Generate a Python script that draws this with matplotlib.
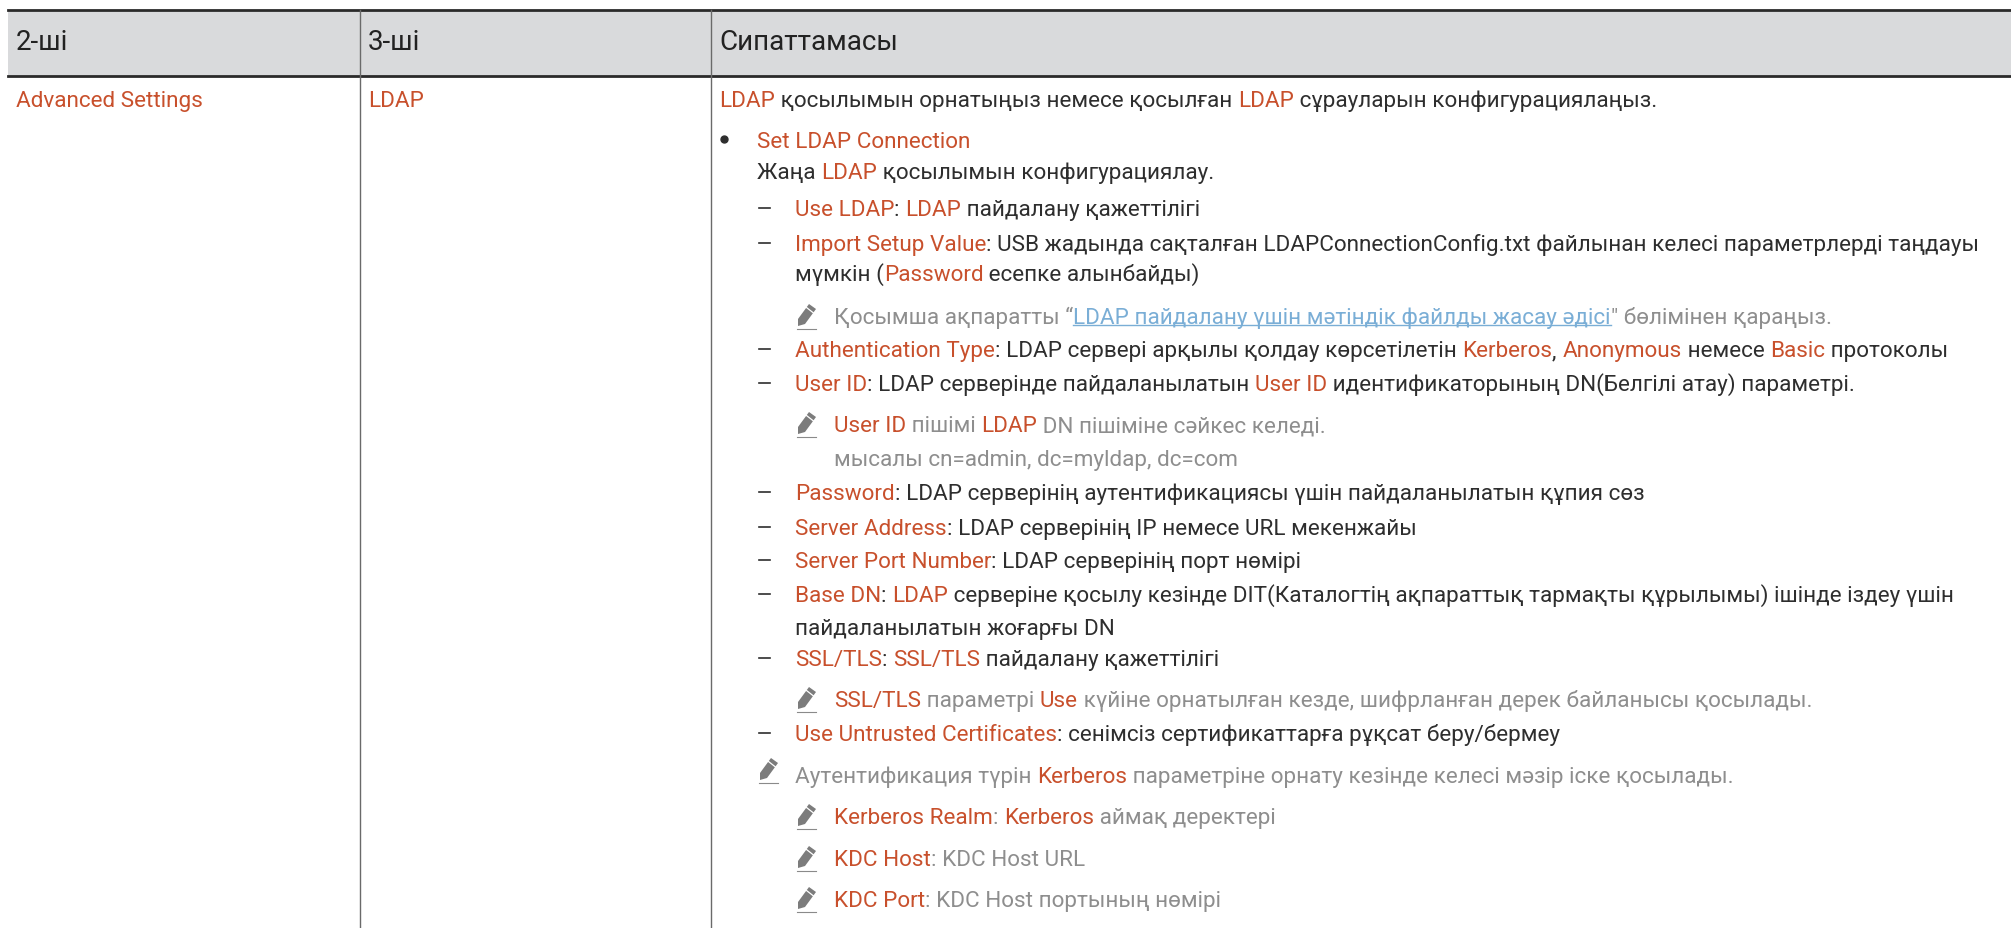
import matplotlib
matplotlib.use('Agg')
import matplotlib.pyplot as plt
from matplotlib.patches import Polygon, Rectangle

# Кесте мәтіні
bagan_atau = ["2-ші", "3-ші", "Сипаттамасы"]
bagan_2 = "[Advanced Settings]"
bagan_3 = "[LDAP]"

# [..] = қызғылт сары, {..} = сілтеме
joldar = [
    "[LDAP] қосылымын орнатыңыз немесе қосылған [LDAP] сұрауларын конфигурациялаңыз.",
    "[Set LDAP Connection]",
    "Жаңа [LDAP] қосылымын конфигурациялау.",
    "[Use LDAP]: [LDAP] пайдалану қажеттілігі",
    "[Import Setup Value]: USB жадында сақталған LDAPConnectionConfig.txt файлынан келесі параметрлерді таңдауы",
    "мүмкін ([Password] есепке алынбайды)",
    "Қосымша ақпаратты “{LDAP пайдалану үшін мәтіндік файлды жасау әдісі}\" бөлімінен қараңыз.",
    "[Authentication Type]: LDAP сервері арқылы қолдау көрсетілетін [Kerberos], [Anonymous] немесе [Basic] протоколы",
    "[User ID]: LDAP серверінде пайдаланылатын [User ID] идентификаторының DN(Белгілі атау) параметрі.",
    "[User ID] пішімі [LDAP] DN пішіміне сәйкес келеді.",
    "мысалы cn=admin, dc=myldap, dc=com",
    "[Password]: LDAP серверінің аутентификациясы үшін пайдаланылатын құпия сөз",
    "[Server Address]: LDAP серверінің IP немесе URL мекенжайы",
    "[Server Port Number]: LDAP серверінің порт нөмірі",
    "[Base DN]: [LDAP] серверіне қосылу кезінде DIT(Каталогтің ақпараттық тармақты құрылымы) ішінде іздеу үшін",
    "пайдаланылатын жоғарғы DN",
    "[SSL/TLS]: [SSL/TLS] пайдалану қажеттілігі",
    "[SSL/TLS] параметрі [Use] күйіне орнатылған кезде, шифрланған дерек байланысы қосылады.",
    "[Use Untrusted Certificates]: сенімсіз сертификаттарға рұқсат беру/бермеу",
    "Аутентификация түрін [Kerberos] параметріне орнату кезінде келесі мәзір іске қосылады.",
    "[Kerberos Realm]: [Kerberos] аймақ деректері",
    "[KDC Host]: KDC Host URL",
    "[KDC Port]: KDC Host портының нөмірі",
]

# Орналасуы: әр жолдың негізгі сызығы мен түрі (пиксель)
y_jol = [107, 148, 179, 216, 251, 281, 324, 357, 391, 432, 466, 500, 535, 568, 602, 635,
         666, 707, 741, 783, 824, 866, 907]
turi = ['a', 'b', 'c', 'd', 'd', 'c2', 'n', 'd', 'd', 'n', 'n2', 'd', 'd', 'd', 'd', 'c2',
        'd', 'n', 'd', 'm', 'n', 'n', 'n']

qaraniz = '#2e2e2e'
sur = '#8e8e8e'
sary = '#c8502c'
silteme = '#7aaed6'
fon = '#d9dadc'

plt.rcParams['font.family'] = ['Roboto', 'DejaVu Sans']
W, H = 2011, 929
qaripi = 16.2

fig = plt.figure(figsize=(W / 100, H / 100), dpi=100)
ax = fig.add_axes([0, 0, 1, 1])
ax.set_xlim(0, W)
ax.set_ylim(H, 0)
ax.axis('off')
rend = fig.canvas.get_renderer()


def eni(s, size):
    # nukte qosyp olshau, son bos oryn joghalmasyn dep
    t1 = ax.text(0, 0, s + '.', fontsize=size)
    t2 = ax.text(0, 0, '.', fontsize=size)
    w = t1.get_window_extent(rend).width - t2.get_window_extent(rend).width
    t1.remove()
    t2.remove()
    return w


def boliktau(s):
    # [..] {..} belgilerin bolikterge bolu
    out, buf, kind = [], '', 'n'
    for ch in s:
        if ch in '[{':
            if buf:
                out.append((buf, 'n'))
            buf, kind = '', 'o' if ch == '[' else 'l'
        elif ch in ']}':
            out.append((buf, kind))
            buf, kind = '', 'n'
        else:
            buf += ch
    if buf:
        out.append((buf, 'n'))
    return out


def jol(x, y, s, negizgi=qaraniz, size=qaripi):
    for bolik, k in boliktau(s):
        c = {'n': negizgi, 'o': sary, 'l': silteme}[k]
        ax.text(x, y, bolik, color=c, fontsize=size, va='baseline', ha='left')
        w = eni(bolik, size)
        if k == 'l':
            ax.plot([x, x + w], [y + 2, y + 2], color=silteme, lw=1.0)
        x += w


def qalam(x, b):
    # qalam belgisi: x sol jak, b astyngy sizyq
    ax.add_patch(Polygon([[x + 1, b - 3], [x + 1, b - 10], [x + 12, b - 25], [x + 19, b - 20],
                          [x + 8, b - 5]], closed=True, facecolor='#7c7c7c', edgecolor='none'))
    ax.plot([x + 9.5, x + 16.5], [b - 21.5, b - 16], color='white', lw=0.9)
    ax.plot([x, x + 19], [b, b], color='#8a8a8a', lw=0.8)


# Такырып фоны мен сызыктар
ax.add_patch(Rectangle((8, 11), W - 8, 66, facecolor=fon, edgecolor='none'))
ax.plot([8, W], [11.3, 11.3], color='#2a2a2a', lw=2.0)
ax.plot([8, W], [77, 77], color='#2a2a2a', lw=2.0)
for x in [360, 711]:
    ax.plot([x, x], [11, H], color='#6a6a6a', lw=1.0)

for x, s in zip([16, 368, 719], bagan_atau):
    ax.text(x, 50, s, color='#222222', fontsize=20, va='baseline')

jol(16, 107, bagan_2)
jol(368, 107, bagan_3)

for s, y, k in zip(joldar, y_jol, turi):
    if k == 'a':
        jol(719, y, s)
    elif k == 'b':
        ax.plot([724], [y - 8], marker='o', ms=5, color=qaraniz)
        jol(757, y, s)
    elif k == 'c':
        jol(757, y, s)
    elif k == 'd':
        ax.plot([759, 770], [y - 7, y - 7], color=qaraniz, lw=1.2)
        jol(795, y, s)
    elif k == 'c2':
        jol(795, y, s)
    elif k == 'n':
        qalam(797, y + 6)
        jol(834, y, s, sur)
    elif k == 'n2':
        jol(834, y, s, sur)
    elif k == 'm':
        qalam(759, y + 1)
        jol(795, y, s, sur)

fig.savefig('out.png', dpi=100)
